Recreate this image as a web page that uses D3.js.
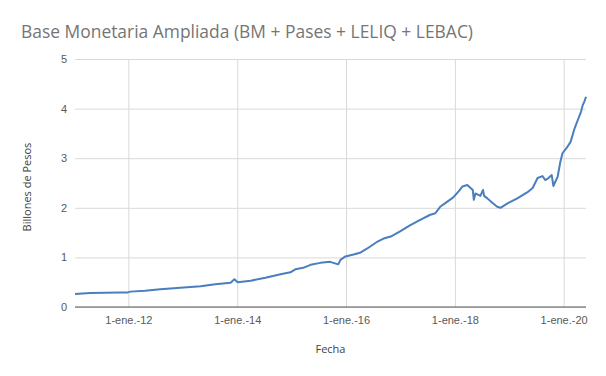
<!DOCTYPE html>
<html>
<head>
<meta charset="utf-8">
<script src="https://cdn.jsdelivr.net/npm/d3@7"></script>
<style>
  body { margin: 0; background: #fff; }
  svg { display: block; font-family: "Open Sans", sans-serif; }
</style>
</head>
<body>
<div id="chart"></div>
<script>
// Data (fecha, billones de pesos)
const dates = [
  "2011-01-08", "2011-04-20", "2011-07-31", "2011-11-06", "2011-12-24",
  "2012-01-15", "2012-04-22", "2012-08-02", "2012-12-15", "2013-04-30",
  "2013-08-07", "2013-11-17", "2013-12-13", "2014-01-04", "2014-04-01",
  "2014-07-09", "2014-10-19", "2014-12-24", "2015-01-26", "2015-03-20",
  "2015-05-08", "2015-07-13", "2015-09-16", "2015-11-10", "2015-11-25",
  "2015-12-28", "2016-02-21", "2016-04-09", "2016-05-23", "2016-07-31",
  "2016-09-09", "2016-10-27", "2017-01-01", "2017-03-08", "2017-05-16",
  "2017-07-20", "2017-08-23", "2017-09-24", "2017-10-31", "2017-12-21",
  "2018-01-26", "2018-02-21", "2018-03-25", "2018-05-01", "2018-05-08",
  "2018-05-19", "2018-06-21", "2018-07-09", "2018-07-16", "2018-08-07",
  "2018-09-09", "2018-10-12", "2018-11-03", "2018-12-20", "2019-02-24",
  "2019-05-01", "2019-06-07", "2019-07-10", "2019-08-12", "2019-08-30",
  "2019-09-21", "2019-10-13", "2019-10-24", "2019-11-22", "2019-12-10",
  "2019-12-24", "2020-01-26", "2020-02-17", "2020-03-11", "2020-04-05",
  "2020-04-27", "2020-05-08", "2020-05-19", "2020-05-30"
];
const values = [
  0.26, 0.28, 0.285, 0.29, 0.29,
  0.31, 0.33, 0.36, 0.39, 0.42,
  0.46, 0.49, 0.56, 0.50, 0.53,
  0.59, 0.66, 0.70, 0.76, 0.79,
  0.85, 0.89, 0.91, 0.86, 0.95,
  1.02, 1.06, 1.10, 1.18, 1.32,
  1.38, 1.42, 1.53, 1.65, 1.76,
  1.86, 1.89, 2.02, 2.10, 2.21,
  2.33, 2.43, 2.46, 2.36, 2.16,
  2.29, 2.24, 2.36, 2.24, 2.19,
  2.10, 2.02, 2.00, 2.09, 2.19,
  2.31, 2.40, 2.60, 2.64, 2.56,
  2.60, 2.66, 2.44, 2.63, 2.93,
  3.10, 3.23, 3.33, 3.57, 3.77,
  3.94, 4.07, 4.14, 4.24
];
const yTicks = [0, 1, 2, 3, 4, 5];
const xTickDates = ["2012-01-01", "2014-01-01", "2016-01-01", "2018-01-01", "2020-01-01"];
const xTickLabels = ["1-ene.-12", "1-ene.-14", "1-ene.-16", "1-ene.-18", "1-ene.-20"];

const COLORS = {
  line: "#4a7ebf",
  grid: "#d9d9d9",
  axis: "#595959",
  tickText: "#595959",
  title: "#757575",
  label: "#404040",
};

const WIDTH = 606;
const HEIGHT = 376;
const margin = { top: 59, right: 20, bottom: 69, left: 75 };
const innerW = WIDTH - margin.left - margin.right;
const innerH = HEIGHT - margin.top - margin.bottom;

const parse = d3.timeParse("%Y-%m-%d");
const data = dates.map((d, i) => ({ date: parse(d), value: values[i] }));

const svg = d3.select("#chart").append("svg")
  .attr("width", WIDTH)
  .attr("height", HEIGHT);

// Title (squeezed to the reference width, which used a narrower face)
svg.append("text")
  .attr("x", 21)
  .attr("y", 38)
  .attr("textLength", 452)
  .attr("lengthAdjust", "spacingAndGlyphs")
  .style("font-size", "18.5px")
  .style("fill", COLORS.title)
  .text("Base Monetaria Ampliada (BM + Pases + LELIQ + LEBAC)");

const g = svg.append("g")
  .attr("transform", `translate(${margin.left},${margin.top})`);

const x = d3.scaleTime()
  .domain(d3.extent(data, (d) => d.date))
  .range([0, innerW]);

const y = d3.scaleLinear()
  .domain([0, 5])
  .range([innerH, 0]);

// Horizontal gridlines + y labels
const yAxis = g.append("g")
  .attr("class", "yaxis")
  .call(d3.axisLeft(y).tickValues(yTicks).tickSize(-innerW).tickPadding(8).tickFormat(d3.format("d")));
yAxis.select(".domain").remove();
yAxis.selectAll(".tick line").style("stroke", COLORS.grid);
yAxis.selectAll(".tick text")
  .style("fill", COLORS.tickText)
  .style("font-size", "11px");

// Vertical gridlines + x labels
const xAxis = g.append("g")
  .attr("class", "xaxis")
  .attr("transform", `translate(0,${innerH})`)
  .call(d3.axisBottom(x)
    .tickValues(xTickDates.map(parse))
    .tickSize(-innerH)
    .tickPadding(9)
    .tickFormat((d, i) => xTickLabels[i]));
xAxis.select(".domain").remove();
xAxis.selectAll(".tick line").style("stroke", COLORS.grid);
xAxis.selectAll(".tick text")
  .style("fill", COLORS.tickText)
  .style("font-size", "11px");

// Baseline
g.append("line")
  .attr("x1", 0)
  .attr("x2", innerW)
  .attr("y1", y(0))
  .attr("y2", y(0))
  .style("stroke", COLORS.axis)
  .style("stroke-width", 1.2);

// Series line
const line = d3.line()
  .x((d) => x(d.date))
  .y((d) => y(d.value));

g.append("path")
  .datum(data)
  .attr("d", line)
  .attr("fill", "none")
  .attr("stroke", COLORS.line)
  .attr("stroke-width", 2)
  .attr("stroke-linejoin", "round");

// Axis titles
svg.append("text")
  .attr("transform", `translate(31,${margin.top + innerH / 2 + 4}) rotate(-90)`)
  .attr("text-anchor", "middle")
  .style("font-size", "11px")
  .style("fill", COLORS.label)
  .text("Billones de Pesos");

svg.append("text")
  .attr("x", margin.left + innerW / 2)
  .attr("y", 353)
  .attr("text-anchor", "middle")
  .style("font-size", "11px")
  .style("fill", COLORS.label)
  .text("Fecha");
</script>
</body>
</html>
